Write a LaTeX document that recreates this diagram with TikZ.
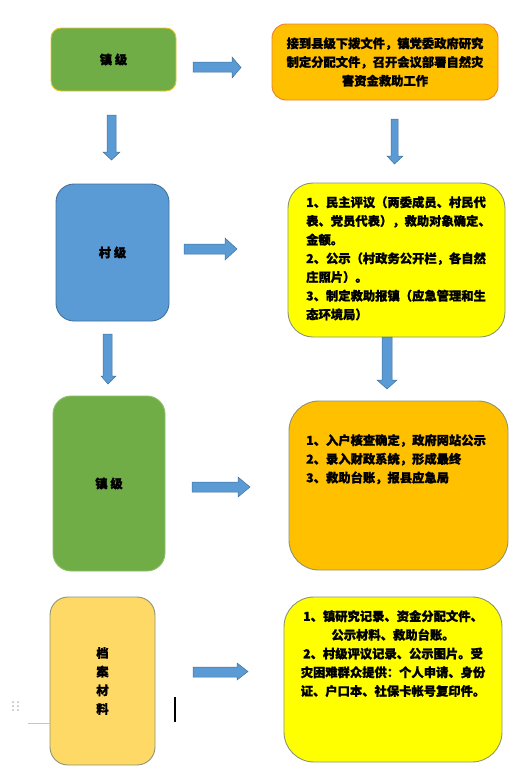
\documentclass[tikz,border=0pt]{standalone}
\usepackage{fontspec}
\newfontfamily\cjk{Noto Sans CJK SC}[BoldFeatures={FakeBold=1.2}]
\definecolor{cgreen}{HTML}{70AD47}
\definecolor{cgold}{HTML}{E5C330}
\definecolor{corange}{HTML}{FFC000}
\definecolor{corline}{HTML}{ED7D31}
\definecolor{cblue}{HTML}{5B9BD5}
\definecolor{cblueline}{HTML}{41719C}
\definecolor{cyellow}{HTML}{FFFF00}
\definecolor{cgrayline}{HTML}{8A9478}
\definecolor{cpale}{HTML}{FFD966}
\definecolor{cgreenline}{HTML}{8DBE6A}
\tikzset{
  box/.style={rectangle, inner sep=0pt, line width=0.9pt},
  txt/.style={font=\cjk\bfseries\fontsize{12.3}{18.7}\selectfont, inner sep=0pt},
  barrow/.style={fill=cblue, draw=cblueline, line width=0.5pt, line join=miter}
}
\begin{document}
\begin{tikzpicture}[x=1pt,y=-1pt]
\useasboundingbox (0,0) rectangle (527,774);
% boxes
\node[box, rounded corners=10pt, fill=cgreen, draw=cgold, minimum width=125pt, minimum height=63pt, txt] (b1) at (113.5,59.5) {镇 级};
\node[box, rounded corners=14pt, fill=corange, draw=corline, minimum width=226pt, minimum height=76pt, txt, align=center] (b2) at (385,62) {接到县级下拨文件，镇党委政府研究\\制定分配文件，召开会议部署自然灾\\害资金救助工作};
\node[box, rounded corners=18pt, fill=cblue, draw=cblueline, minimum width=113pt, minimum height=137pt, txt] (b3) at (112.5,252.5) {村 级};
\node[box, rounded corners=25pt, fill=cyellow, draw=cgrayline, minimum width=217pt, minimum height=154pt] (b4) at (396.5,260) {};
\node[txt, align=left, anchor=north west] (t4) at (306,196) {1、民主评议（两委成员、村民代\\表、党员代表），救助对象确定、\\金额。\\2、公示（村政务公开栏，各自然\\庄照片）。\\3、制定救助报镇（应急管理和生\\态环境局）};
\node[box, rounded corners=18pt, fill=cgreen, draw=cgreenline, minimum width=112pt, minimum height=175pt, txt] (b5) at (109,483.5) {镇 级};
\node[box, rounded corners=30pt, fill=corange, draw=cgrayline, minimum width=219pt, minimum height=169pt] (b6) at (398.5,485.5) {};
\node[txt, align=left, anchor=north west] (t6) at (306,434) {1、入户核查确定，政府网站公示\\2、录入财政系统，形成最终\\3、救助台账，报县应急局};
\node[box, rounded corners=18pt, fill=cpale, draw=cgrayline, minimum width=105pt, minimum height=168pt, txt, align=center] (b7) at (102.5,681) {档\\案\\材\\料};
\node[box, rounded corners=30pt, fill=cyellow, draw=cgrayline, minimum width=218pt, minimum height=165pt] (b8) at (393,679.5) {};
\node[txt, align=center, anchor=north] (t8) at (393,610) {1、镇研究记录、资金分配文件、\\公示材料、救助台账。\\2、村级评议记录、公示图片。受\\灾困难群众提供：个人申请、身份\\证、户口本、社保卡帐号复印件。};
% block arrows
\draw[barrow] (193,62) -- (232,62) -- (232,57) -- (241,67.5) -- (232,78) -- (232,72) -- (193,72) -- cycle;
\draw[barrow] (107,115) -- (116,115) -- (116,152) -- (120,152) -- (111.5,160) -- (103,152) -- (107,152) -- cycle;
\draw[barrow] (391,119) -- (398,119) -- (398,156) -- (403,156) -- (394.5,164) -- (387,156) -- (391,156) -- cycle;
\draw[barrow] (184,244) -- (225,244) -- (225,238) -- (237,249) -- (225,260) -- (225,254) -- (184,254) -- cycle;
\draw[barrow] (103,334) -- (112,334) -- (112,376) -- (116,376) -- (108,384) -- (101,376) -- (103,376) -- cycle;
\draw[barrow] (382,337) -- (392,337) -- (392,380) -- (397,380) -- (387,389) -- (377,380) -- (382,380) -- cycle;
\draw[barrow] (192,482) -- (238,482) -- (238,477) -- (250,487) -- (238,497) -- (238,492) -- (192,492) -- cycle;
\draw[barrow] (193,667) -- (237,667) -- (237,663) -- (248,671.5) -- (237,680) -- (237,677) -- (193,677) -- cycle;
% stray marks
\foreach \yy in {702,706,710}{
  \fill[gray!55] (13,\yy) circle (1pt);
  \fill[gray!55] (18,\yy) circle (1pt);
}
\draw[gray!45, line width=0.6pt] (28,723) -- (50,723);
\draw[black, line width=1.3pt] (175,697) -- (175,722);
\end{tikzpicture}
\end{document}
